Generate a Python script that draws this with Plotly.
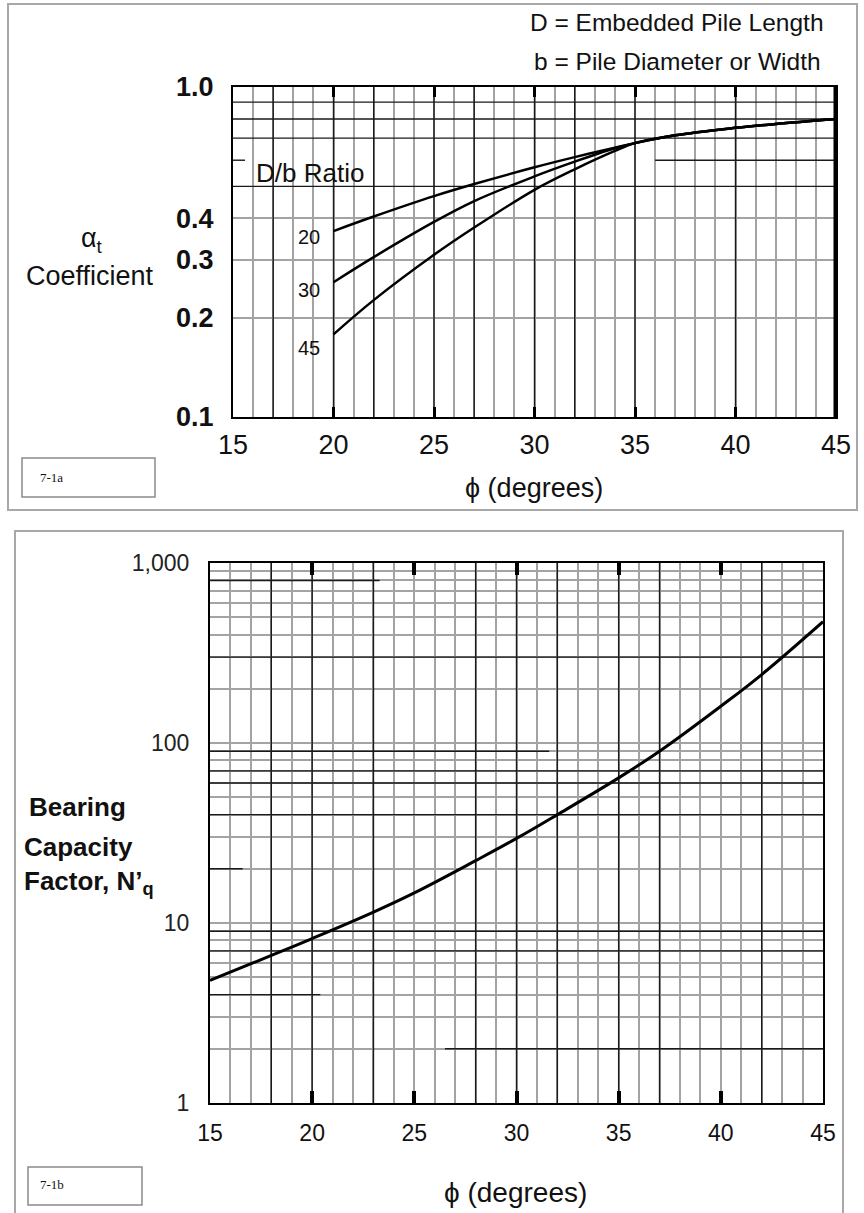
import plotly.graph_objects as go

W, H = 864, 1213

# ---- Figure 7-1a: alpha_t coefficient vs friction angle, one curve per D/b ratio
phi_a = [20, 22, 25, 27, 30, 32, 34, 35, 37, 40, 42, 45]
alpha_db20 = [0.366, 0.405, 0.467, 0.508, 0.571, 0.613, 0.655, 0.676, 0.714, 0.752, 0.773, 0.800]
alpha_db30 = [0.256, 0.305, 0.390, 0.451, 0.536, 0.594, 0.652, 0.676, 0.714, 0.752, 0.773, 0.800]
alpha_db45 = [0.178, 0.226, 0.310, 0.375, 0.488, 0.563, 0.640, 0.676, 0.714, 0.752, 0.773, 0.800]
db_ratios = ["20", "30", "45"]

# ---- Figure 7-1b: bearing capacity factor N'q vs friction angle
phi_b = [15, 18, 20, 23, 25, 28, 30, 32, 35, 37, 40, 42, 45]
nq = [4.8, 6.6, 8.2, 11.5, 14.7, 22.2, 29.5, 40, 64, 90, 160, 240, 472]

# tick labels
phi_ticks = [15, 20, 25, 30, 35, 40, 45]
alpha_ticks = [0.1, 0.2, 0.3, 0.4, 1.0]
alpha_ticktext = ["0.1", "0.2", "0.3", "0.4", "1.0"]
nq_ticks = [1, 10, 100, 1000]
nq_ticktext = ["1", "10", "100", "1,000"]

# graph-paper rulings printed darker than the rest
dark_phi_a = [17, 20, 22, 25, 27, 30, 32, 35, 40]
dark_alpha = [0.5, 0.7, 0.8, 0.9]
part_alpha = [(0.6, 36.0, 45.0), (0.6, 15.0, 15.6)]
dark_phi_b = [18, 20, 23, 28, 30, 32, 35, 37, 42]
dark_nq = [300, 70, 60, 40, 9, 7]
part_nq = [(800, 15.0, 23.3), (90, 15.0, 31.6), (20, 15.0, 16.6), (4, 15.0, 20.4), (2, 26.5, 45.0)]
minor_nq = [m * 10 ** d for d in range(3) for m in range(2, 10)]

SANS = "Liberation Sans, Arial, Helvetica, sans-serif"
SERIF = "Liberation Serif, Times New Roman, serif"
INK = "#111111"
GRAY = "#a3a3a3"
DARK = "#1a1a1a"


def px(x):
    return x / W


def py(y):
    return 1 - y / H


def rulings(verticals, horizontals, partials, x_range, y_range):
    """Build None-separated segment lists for the darker grid rulings."""
    xs, ys = [], []
    for v in verticals:
        xs += [v, v, None]
        ys += [y_range[0], y_range[1], None]
    for h in horizontals:
        xs += [x_range[0], x_range[1], None]
        ys += [h, h, None]
    for h, a, b in partials:
        xs += [a, b, None]
        ys += [h, h, None]
    return xs, ys


fig = go.Figure()

# darker rulings (drawn first so the curves sit on top)
gx, gy = rulings(dark_phi_a, dark_alpha, part_alpha, (15, 45), (0.1, 1.0))
fig.add_trace(go.Scatter(x=gx, y=gy, mode="lines", line=dict(color=DARK, width=1.4),
                         hoverinfo="skip", showlegend=False, xaxis="x", yaxis="y"))
fig.add_trace(go.Scatter(x=[45, 45], y=[0.1, 1.0], mode="lines", line=dict(color="black", width=5),
                         hoverinfo="skip", showlegend=False, xaxis="x", yaxis="y"))
gx, gy = rulings(dark_phi_b, dark_nq, part_nq, (15, 45), (1, 1000))
fig.add_trace(go.Scatter(x=gx, y=gy, mode="lines", line=dict(color=DARK, width=1.4),
                         hoverinfo="skip", showlegend=False, xaxis="x2", yaxis="y2"))

# alpha_t curves
for vals in (alpha_db20, alpha_db30, alpha_db45):
    fig.add_trace(go.Scatter(x=phi_a, y=vals, mode="lines",
                             line=dict(color="black", width=2.5, shape="spline", smoothing=1.0),
                             hoverinfo="skip", showlegend=False, xaxis="x", yaxis="y"))

# N'q curve
fig.add_trace(go.Scatter(x=phi_b, y=nq, mode="lines",
                         line=dict(color="black", width=3, shape="spline", smoothing=1.1),
                         hoverinfo="skip", showlegend=False, xaxis="x2", yaxis="y2"))

common_x = dict(
    range=[15, 45], tickvals=phi_ticks, showline=True, linecolor="black", linewidth=2,
    mirror="ticks", ticks="inside", tickcolor="black", zeroline=False, automargin=False,
    showgrid=True, gridcolor=GRAY, gridwidth=2,
    minor=dict(dtick=1, showgrid=True, gridcolor=GRAY, gridwidth=2, ticks=""),
)

fig.update_layout(
    width=W, height=H, autosize=False,
    margin=dict(l=0, r=0, t=0, b=0, pad=0),
    paper_bgcolor="white", plot_bgcolor="white",
    xaxis=dict(domain=[px(233), px(836)], anchor="y", ticklen=10, tickwidth=2.5,
               tickfont=dict(family=SANS, size=27, color=INK), ticklabelstandoff=3, **common_x),
    yaxis=dict(domain=[py(417), py(87)], anchor="x", type="log", range=[-1, 0],
               tickvals=alpha_ticks, ticktext=["<b>%s</b>" % t for t in alpha_ticktext],
               tickfont=dict(family=SANS, size=27, color=INK), ticks="", ticklabelstandoff=12,
               showline=True, linecolor="black", linewidth=2, mirror=True, automargin=False,
               showgrid=True, gridcolor=GRAY, gridwidth=2, zeroline=False),
    xaxis2=dict(domain=[px(210), px(823)], anchor="y2", ticklen=12, tickwidth=3.5,
                tickfont=dict(family=SANS, size=23, color=INK), ticklabelstandoff=8, **common_x),
    yaxis2=dict(domain=[py(1103), py(563)], anchor="x2", type="log", range=[0, 3],
                tickvals=nq_ticks, ticktext=nq_ticktext,
                tickfont=dict(family=SANS, size=23, color="#222222"), ticks="", ticklabelstandoff=14,
                showline=True, linecolor="black", linewidth=2, mirror=True, automargin=False,
                showgrid=True, gridcolor=GRAY, gridwidth=2, zeroline=False,
                minor=dict(tickvals=minor_nq, showgrid=True, gridcolor=GRAY, gridwidth=2, ticks="")),
)

# outer frames and figure-number boxes
frames = [(8, 4, 857, 510), (15, 531, 843, 1216)]
boxes = [(22, 458, 155, 497), (28, 1167, 142, 1205)]
for x0, y0, x1, y1 in frames:
    fig.add_shape(type="rect", xref="paper", yref="paper", x0=px(x0), x1=px(x1), y0=py(y1), y1=py(y0),
                  line=dict(color="#a8a8a8", width=2))
for x0, y0, x1, y1 in boxes:
    fig.add_shape(type="rect", xref="paper", yref="paper", x0=px(x0), x1=px(x1), y0=py(y1), y1=py(y0),
                  line=dict(color="#8a8a8a", width=1.5))


def note(text, x, y, size, xanchor="center", family=SANS, color=INK):
    fig.add_annotation(text=text, x=px(x), y=py(y), xref="paper", yref="paper", showarrow=False,
                       xanchor=xanchor, yanchor="middle", font=dict(family=family, size=size, color=color))


# top chart text
note("D = Embedded Pile Length", 826, 23, 24.5, xanchor="right")
note("b = Pile Diameter or Width", 823, 62, 24.5, xanchor="right")
note("D/b Ratio", 254, 173, 26, xanchor="left")
for lab, yy in zip(db_ratios, (237, 290, 348)):
    note(lab, 309, yy, 20)
note("α<sub>t</sub>", 92, 240, 27)
note("Coefficient", 90, 276, 27)
note("ϕ (degrees)", 534, 488, 27)
note("7-1a", 38, 477, 13, xanchor="left", family=SERIF)

# bottom chart text
note("<b>Bearing</b>", 27, 807, 26, xanchor="left")
note("<b>Capacity</b>", 22, 847, 26, xanchor="left")
note("<b>Factor, N’<sub>q</sub></b>", 22, 882, 26, xanchor="left")
note("ϕ (degrees)", 442, 1192, 28, xanchor="left")
note("7-1b", 38, 1184, 13, xanchor="left", family=SERIF)

fig.write_html("out.html")
